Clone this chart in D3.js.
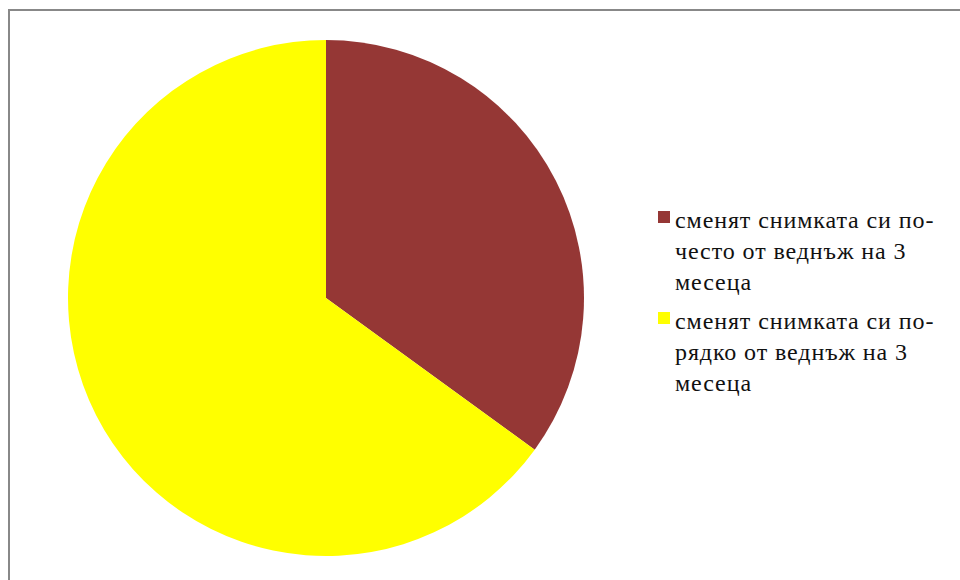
<!DOCTYPE html>
<html>
<head>
<meta charset="utf-8">
<script src="https://cdn.jsdelivr.net/npm/d3@7"></script>
<style>
  html, body { margin: 0; padding: 0; background: #fff; }
  svg { display: block; }
</style>
</head>
<body>
<svg id="chart" width="960" height="580"></svg>
<script>
// Share of respondents by how often they change their profile photo
const categories = [
  "сменят снимката си по-често от веднъж на 3 месеца",
  "сменят снимката си по-рядко от веднъж на 3 месеца"
];
const values = [35, 65];
const colors = ["#953735", "#FFFF00"];

const svg = d3.select("#chart");

// Outer frame (runs off the right and bottom edges)
svg.append("rect")
  .attr("x", 9).attr("y", 10)
  .attr("width", 970).attr("height", 600)
  .attr("fill", "#fff")
  .attr("stroke", "#888")
  .attr("stroke-width", 2);

const cx = 326, cy = 298, radius = 258;

const pie = d3.pie().sort(null).value(d => d.value);
const arc = d3.arc().innerRadius(0).outerRadius(radius);
const data = categories.map((c, i) => ({ label: c, value: values[i], color: colors[i] }));

svg.append("g")
  .attr("transform", `translate(${cx},${cy})`)
  .selectAll("path")
  .data(pie(data))
  .join("path")
  .attr("d", arc)
  .attr("fill", d => d.data.color);

// Legend with word wrapping (breaks at spaces and after hyphens)
const fontFamily = "Liberation Serif";
const fontSize = 24;
const letterSpacing = 0.9;
const lineH = 31;
const maxW = 285;
const legendX = 658, textX = 675;
const legend = svg.append("g");

function addText(x, y, s) {
  return legend.append("text")
    .attr("x", x).attr("y", y)
    .attr("font-family", fontFamily)
    .attr("font-size", fontSize)
    .attr("letter-spacing", letterSpacing)
    .attr("fill", "#111")
    .style("font-family", `"${fontFamily}"`)
    .style("font-size", `${fontSize}px`)
    .style("letter-spacing", `${letterSpacing}px`)
    .text(s);
}

const measure = addText(0, -100, "");
function textWidth(s) { measure.text(s); return measure.node().getComputedTextLength(); }

function wrap(label) {
  const parts = [];
  const re = /[^\s-]+-?/g;
  let m;
  while ((m = re.exec(label)) !== null) {
    parts.push({ t: m[0], space: label.charAt(re.lastIndex) === " " });
  }
  const lines = [];
  let cur = "";
  let prevSpace = false;
  parts.forEach(p => {
    const candidate = cur === "" ? p.t : cur + (prevSpace ? " " : "") + p.t;
    if (cur !== "" && textWidth(candidate) > maxW) {
      lines.push(cur);
      cur = p.t;
    } else {
      cur = candidate;
    }
    prevSpace = p.space;
  });
  if (cur) lines.push(cur);
  return lines;
}

let baseline = 228;
const wrapped = data.map(d => ({ d, lines: wrap(d.label) }));
measure.remove();

wrapped.forEach(({ d, lines }) => {
  legend.append("rect")
    .attr("x", legendX).attr("y", baseline - 17)
    .attr("width", 12).attr("height", 12)
    .attr("fill", d.color);
  lines.forEach((ln, j) => addText(textX, baseline + j * lineH, ln));
  baseline += lineH * (lines.length - 1) + 39;
});
</script>
</body>
</html>
